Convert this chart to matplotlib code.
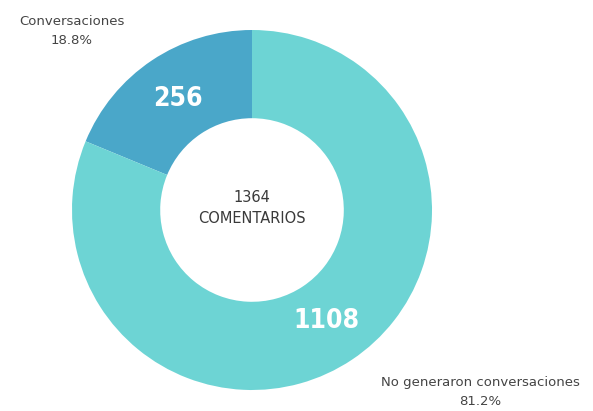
import numpy as np
import matplotlib
matplotlib.use("Agg")
import matplotlib.pyplot as plt
from matplotlib import font_manager

# data
categories = ["Conversaciones", "No generaron conversaciones"]
values = [256, 1108]
colors = ["#4aa7c9", "#6dd4d4"]
center_label = "COMENTARIOS"

total = sum(values)
pcts = [v / total * 100 for v in values]

# narrow bold font for the numbers on the ring, if there is one
names = {f.name for f in font_manager.fontManager.ttflist}
num_font = "Liberation Sans Narrow" if "Liberation Sans Narrow" in names else "DejaVu Sans"

fig = plt.figure(figsize=(5.93, 4.11), dpi=100)
cx, cy, r = 252, 210, 180
ax = fig.add_axes([(cx - r) / 593, (411 - cy - r) / 411, 2 * r / 593, 2 * r / 411])

wedges, _ = ax.pie(values, colors=colors, startangle=90, counterclock=True,
                   radius=1.0, wedgeprops=dict(width=0.49, edgecolor="none"))
ax.set_xlim(-1, 1)
ax.set_ylim(-1, 1)
ax.set_aspect("equal")
ax.axis("off")

# values on the ring
for w, v in zip(wedges, values):
    ang = np.deg2rad((w.theta1 + w.theta2) / 2)
    ax.text(0.74 * np.cos(ang), 0.74 * np.sin(ang), str(v), ha="center", va="center",
            color="white", fontsize=19, fontweight="bold", family=num_font,
            fontstretch="condensed")

# center text
ax.text(0, 0.07, str(total), ha="center", va="center", fontsize=10.5, color="#3a3a3a")
ax.text(0, -0.05, center_label, ha="center", va="center", fontsize=10.5, color="#3a3a3a")

# outside labels
ax.text(-1.0, 0.994, "%s\n%.1f%%" % (categories[0], pcts[0]), ha="center", va="center",
        fontsize=9.5, color="#444444", linespacing=1.65, clip_on=False)
ax.text(1.267, -1.011, "%s\n%.1f%%" % (categories[1], pcts[1]), ha="center", va="center",
        fontsize=9.5, color="#444444", linespacing=1.65, clip_on=False)

fig.savefig("out.png", dpi=100, facecolor="white")
